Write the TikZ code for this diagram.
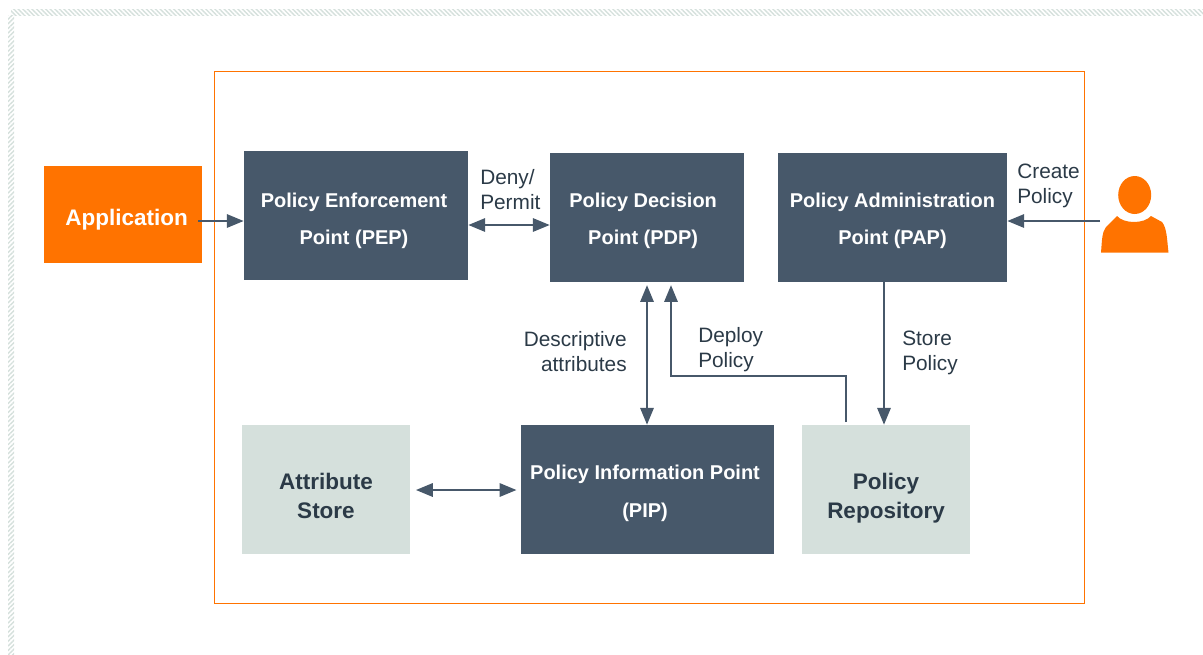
\documentclass[tikz,border=0pt]{standalone}
\usepackage{fontspec}
\setmainfont{Liberation Sans}
\usetikzlibrary{arrows.meta,patterns.meta}
\definecolor{slate}{HTML}{47586A}
\definecolor{mist}{HTML}{D5E0DC}
\definecolor{flame}{HTML}{FF7300}
\definecolor{ink}{HTML}{2B3A47}
\definecolor{hatch}{HTML}{D5E0DC}
\tikzset{
	darkbox/.style={fill=slate,text=white,inner sep=0pt,align=center,font=\fontsize{14.2}{26.6}\selectfont\bfseries},
	lightbox/.style={fill=mist,text=ink,inner sep=0pt,align=center,minimum width=4.2cm,minimum height=3.225cm,font=\fontsize{16}{20.6}\selectfont\bfseries},
	lbl/.style={text=ink,inner sep=0pt,font=\fontsize{14.8}{17.8}\selectfont},
	flow/.style={draw=slate,line width=1.5pt,-{Triangle[length=12pt,width=9.5pt]}},
	flowboth/.style={draw=slate,line width=1.5pt,{Triangle[length=12pt,width=9.5pt]}-{Triangle[length=12pt,width=9.5pt]}}
}
\begin{document}
\begin{tikzpicture}[x=0.025cm,y=-0.025cm]
	\useasboundingbox (0,0) rectangle (1203,654);
	\fill[pattern={Lines[angle=135,distance=2.3pt,line width=1pt]},pattern color=hatch] (11,9) rectangle (1203,15);
	\fill[pattern={Lines[angle=45,distance=2.3pt,line width=1pt]},pattern color=hatch] (8,15) rectangle (14,654);
	\draw[flame,line width=0.8pt] (214.5,71.5) rectangle (1084.5,603.5);

	\node[fill=flame,text=white,inner sep=0pt,align=center,minimum width=3.95cm,minimum height=2.425cm,font=\fontsize{16}{20}\selectfont\bfseries] (app) at (123,214.5) {\\[-1.6pt]\hspace*{5pt}Application};
	\node[darkbox,minimum width=5.6cm,minimum height=3.225cm] (pep) at (356,215.5) {\\[-8.6pt]\hspace*{-2.8pt}Policy Enforcement\\\hspace*{-2.8pt}Point (PEP)};
	\node[darkbox,minimum width=4.85cm,minimum height=3.225cm] (pdp) at (647,217.5) {\\[-11.4pt]\hspace*{-5.5pt}Policy Decision\\\hspace*{-5.5pt}Point (PDP)};
	\node[darkbox,minimum width=5.725cm,minimum height=3.225cm] (pap) at (892.5,217.5) {\\[-11.4pt]Policy Administration\\Point (PAP)};
	\node[darkbox,minimum width=6.325cm,minimum height=3.225cm] (pip) at (647.5,489.5) {\\[-10.7pt]\hspace*{-3.5pt}Policy Information Point\\\hspace*{-3.5pt}(PIP)};
	\node[lightbox] (store) at (326,489.5) {\\[0pt]Attribute\\Store};
	\node[lightbox] (repo) at (886,489.5) {\\[3pt]Policy\\Repository};

	\node[lbl,anchor=west,align=left] (deny) at (480,189.5) {Deny/\\Permit};
	\node[lbl,anchor=west,align=left] (create) at (1017,186) {Create\\Policy};
	\node[lbl,anchor=east,align=right] (descr) at (627,351.5) {Descriptive\\attributes};
	\node[lbl,anchor=west,align=left] (deploy) at (698,350) {Deploy\\Policy};
	\node[lbl,anchor=west,align=left] (storepol) at (902,353) {Store\\Policy};

	\fill[flame] (1134.7,195) ellipse (16.5 and 19);
	\fill[flame] (1101,252.7) .. controls (1102,240) and (1102,232) .. (1106,227) -- (1117,216)
		.. controls (1124,224) and (1144,224) .. (1151,216) -- (1162,222)
		.. controls (1167,228) and (1167,240) .. (1168.5,252.7) -- cycle;
	\coordinate (person) at (1100,221);
	\coordinate (appout) at (198,221);
	\coordinate (repoout) at (846,422);

	\draw[flow] (appout) -- (appout -| pep.west);
	\draw[flowboth] (pep.east |- 0,225) -- (pdp.west |- 0,225);
	\draw[flow] (person) -- (person -| pap.east);
	\draw[flowboth,shorten <=2pt] (pdp.south -| 647,0) -- (pip.north -| 647,0);
	\draw[flow,shorten >=2pt] (repoout) -- (846,376) -- (671,376) -- (pdp.south -| 671,0);
	\draw[flow] (pap.south -| 884,0) -- (repo.north -| 884,0);
	\draw[flowboth,shorten <=4pt,shorten >=3pt] (store.east |- 0,490) -- (pip.west |- 0,490);
\end{tikzpicture}
\end{document}
